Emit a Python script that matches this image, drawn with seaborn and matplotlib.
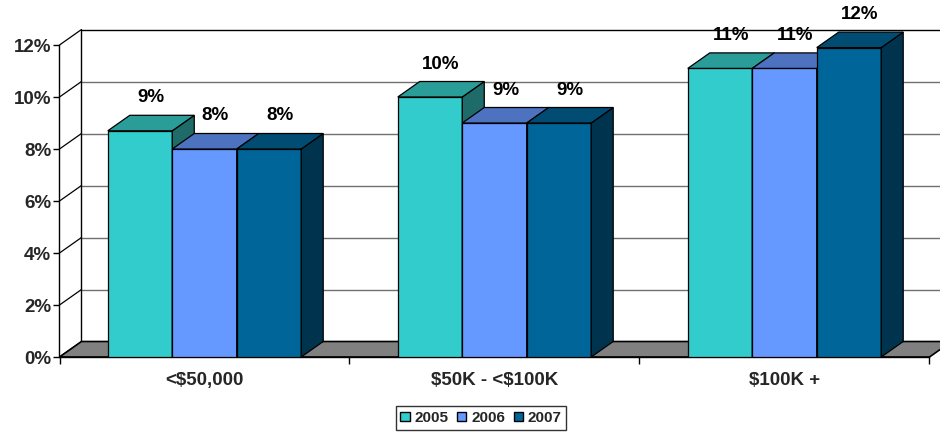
import matplotlib
matplotlib.use('Agg')
import matplotlib.pyplot as plt
import seaborn as sns
import pandas as pd
import numpy as np
from matplotlib.patches import Polygon, Patch
from matplotlib.ticker import PercentFormatter, FixedLocator

# ---- data ----
categories = ['<$50,000', '$50K - <$100K', '$100K +']
years = ['2005', '2006', '2007']
v2005 = [0.087, 0.100, 0.111]
v2006 = [0.080, 0.090, 0.111]
v2007 = [0.080, 0.090, 0.119]
y_ticks = [0.0, 0.02, 0.04, 0.06, 0.08, 0.10, 0.12]

front_colors = ['#33CCCC', '#6699FF', '#006699']
top_colors = ['#2A9D99', '#4D73C0', '#004C73']
side_colors = ['#1F6B69', '#3A5A96', '#00334D']

sns.set_style('white')
plt.rcParams['font.family'] = ['Liberation Sans', 'DejaVu Sans']
plt.rcParams['font.weight'] = 'bold'
plt.rcParams['text.parse_math'] = False

W, H = 940, 432
fig = plt.figure(figsize=(W / 100, H / 100), dpi=100)
fig.patch.set_facecolor('white')
x0, x1 = 59.5, 929.5
y0, y1 = 357, 45
ax = fig.add_axes([x0 / W, (H - y0) / H, (x1 - x0) / W, (y0 - y1) / H])
ax.set_facecolor('none')

df = pd.DataFrame({
    'category': categories * 3,
    'year': [y for y in years for _ in categories],
    'value': v2005 + v2006 + v2007,
})
sns.barplot(data=df, x='category', y='value', hue='year', hue_order=years,
            palette=front_colors, saturation=1, width=0.667,
            edgecolor='black', linewidth=0.9, errorbar=None, legend=False, ax=ax)

ax.set_xlim(-0.5, 2.5)
ax.set_ylim(0, 0.12)

# 3D depth offsets (pixels -> data units)
dpx, dpy = 22, 15.5
dx = dpx * 3 / (x1 - x0)
dy = dpy * 0.12 / (y0 - y1)
xl, xr = -0.5, 2.5

# back wall gridlines + side wall diagonals
for t in y_ticks:
    col = 'black' if t == y_ticks[-1] else '#707070'
    ax.plot([xl + dx, xr + dx], [t + dy, t + dy], color=col, lw=1.0,
            clip_on=False, zorder=1)
    ax.plot([xl, xl + dx], [t, t + dy], color='black', lw=0.9,
            clip_on=False, zorder=1.1)
ax.plot([xl + dx, xl + dx], [dy, y_ticks[-1] + dy], color='black', lw=1.0,
        clip_on=False, zorder=1.1)

# floor
floor = Polygon([(xl, 0), (xr, 0), (xr + dx, dy), (xl + dx, dy)], closed=True,
                facecolor='#808080', edgecolor='black', lw=1.2, clip_on=False,
                zorder=1.5)
ax.add_patch(floor)

# 3D faces of bars
bars = sorted([p for p in ax.patches if p is not floor], key=lambda p: p.get_x())
for k, p in enumerate(bars):
    ci = k % 3
    x, w, h = p.get_x(), p.get_width(), p.get_height()
    z = 3 + k * 0.01
    p.set_zorder(z)
    side = Polygon([(x + w, 0), (x + w, h), (x + w + dx, h + dy), (x + w + dx, dy)],
                   closed=True, facecolor=side_colors[ci], edgecolor='black',
                   lw=0.9, clip_on=False, zorder=z + 0.001)
    top = Polygon([(x, h), (x + w, h), (x + w + dx, h + dy), (x + dx, h + dy)],
                  closed=True, facecolor=top_colors[ci], edgecolor='black',
                  lw=0.9, clip_on=False, zorder=z + 0.002)
    ax.add_patch(side)
    ax.add_patch(top)
    ax.annotate(f'{h * 100:.0f}%', xy=(x + w / 2 + dx / 2, h), xytext=(0, 33),
                textcoords='offset pixels', ha='center', va='center',
                fontsize=13.5, fontweight='bold', color='black',
                annotation_clip=False, zorder=10)

# spines & ticks
for s in ['top', 'right']:
    ax.spines[s].set_visible(False)
for s in ['left', 'bottom']:
    ax.spines[s].set_color('black')
    ax.spines[s].set_linewidth(1.0)
ax.spines['bottom'].set_zorder(2)

ax.yaxis.set_major_locator(FixedLocator(y_ticks))
ax.yaxis.set_major_formatter(PercentFormatter(1.0, decimals=0))
ax.tick_params(axis='y', which='major', length=4, width=1, color='black',
               direction='out', left=True, pad=2, labelsize=13.5)
ax.set_xticks(range(len(categories)))
ax.set_xticklabels(categories)
ax.set_xticks([-0.5, 0.5, 1.5, 2.5], minor=True)
ax.tick_params(axis='x', which='major', length=0, pad=11, labelsize=13.5)
ax.tick_params(axis='x', which='minor', length=5, width=1, color='black',
               direction='out', bottom=True)
for lab in ax.get_xticklabels() + ax.get_yticklabels():
    lab.set_fontweight('bold')
ax.set_xlabel('')
ax.set_ylabel('')
ax.grid(False)

handles = [Patch(facecolor=c, edgecolor='black', label=y)
           for c, y in zip(front_colors, years)]
leg = fig.legend(handles=handles, loc='center',
                 bbox_to_anchor=(481 / W, (H - 418) / H), ncol=3,
                 frameon=True, fancybox=False, edgecolor='black',
                 prop={'size': 11, 'weight': 'bold'},
                 handlelength=0.6, handleheight=0.6, handletextpad=0.3,
                 columnspacing=0.6, borderpad=0.3, borderaxespad=0)
leg.get_frame().set_linewidth(1.0)

fig.savefig('out.png', dpi=100)
